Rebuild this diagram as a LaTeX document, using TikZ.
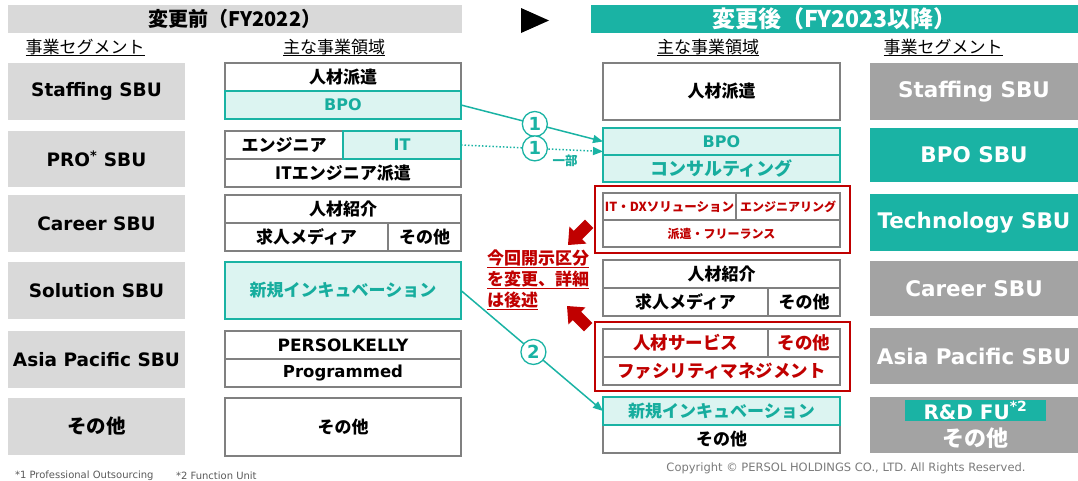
\documentclass[tikz,border=0pt]{standalone}
\usepackage{fontspec}
\newfontfamily\jp{Noto Sans CJK JP}
\newfontfamily\lat{DejaVu Sans}
\usetikzlibrary{arrows.meta}
\definecolor{tealc}{HTML}{1AB3A4}
\definecolor{tealtx}{HTML}{17AD9E}
\definecolor{lteal}{HTML}{DCF4F1}
\definecolor{lgray}{HTML}{D9D9D9}
\definecolor{mgray}{HTML}{A3A3A3}
\definecolor{bgray}{HTML}{808080}
\definecolor{dkred}{HTML}{C00000}
\definecolor{ftgray}{HTML}{595959}
\newcommand\fs[1]{\fontsize{#1}{#1}\selectfont}
\newcommand\bx[7]{\node[#2,minimum width={(#5-#3)*1pt},minimum height={(#6-#4)*1pt}] (#1) at ({(#3+#5)/2},{(#4+#6)/2}) {#7};}
\begin{document}
\begin{tikzpicture}[x=1pt,y=-1pt,inner sep=0pt,outer sep=0pt,
  segL/.style={fill=lgray,font=\lat\bfseries\fs{18.5},text=black},
  segG/.style={fill=mgray,font=\lat\bfseries\fs{21.5},text=white},
  segT/.style={fill=tealc,font=\lat\bfseries\fs{21.5},text=white},
  cell/.style={draw=bgray,line width=1.2pt,fill=white,font=\jp\bfseries\fs{17},text=black},
  tcell/.style={draw=tealc,line width=1.3pt,fill=lteal,font=\jp\bfseries\fs{17},text=tealtx},
  rcell/.style={draw=bgray,line width=1.2pt,fill=white,font=\jp\bfseries\fs{17.5},text=dkred},
  redframe/.style={draw=dkred,line width=2.5pt,fill=white},
  sub/.style={font=\jp\fs{17},text=black},
  flow/.style={draw=tealc,line width=1.5pt,-{Triangle[length=10pt,width=8pt]}},
  num/.style={circle,solid,draw=tealc,line width=1.3pt,fill=white,minimum size=25pt,font=\lat\bfseries\fs{18},text=tealc},
  redtxt/.style={anchor=west,font=\jp\bfseries\fs{17},text=dkred}]
\useasboundingbox (0,0) rectangle (1078,480);
% titles
\bx{tL}{fill=lgray,font=\jp\bfseries\fs{20}}{8}{5}{462}{33}{変更前（FY2022）}
\bx{tR}{fill=tealc,text=white,font=\jp\bfseries\fs{23}}{591}{5}{1078}{33}{変更後（FY2023以降）}
\fill (521,8) -- (549,20.5) -- (521,33) -- cycle;
% subheaders
\node[sub] (h1) at (85,47) {事業セグメント};
\node[sub] (h2) at (334,47) {主な事業領域};
\node[sub] (h3) at (708,47) {主な事業領域};
\node[sub] (h4) at (943,47) {事業セグメント};
\foreach \h in {h1,h2,h3,h4} \draw[line width=0.8pt] ([yshift=-1pt]\h.south west) -- ([yshift=-1pt]\h.south east);
% left segments
\bx{segStaff}{segL}{8}{63}{185}{120}{Staffing SBU}
\bx{segPro}{segL}{8}{131}{185}{187}{PRO\textsuperscript{*} SBU}
\bx{segCareer}{segL}{8}{195}{185}{252}{Career SBU}
\bx{segSol}{segL}{8}{262}{185}{319}{Solution SBU}
\bx{segAsia}{segL}{8}{331}{185}{388}{Asia Pacific SBU}
\bx{segOther}{segL,font=\jp\bfseries\fs{19.5}}{8}{398}{185}{455}{その他}
% left areas
\bx{aStaff}{cell}{225}{63}{461}{91}{人材派遣}
\bx{aBpo}{tcell}{225}{91}{461}{119}{\lat\fs{16}BPO}
\bx{aEng}{cell}{225}{131}{343}{159}{エンジニア}
\bx{aITeng}{cell}{225}{159}{461}{187}{ITエンジニア派遣}
\bx{aIT}{tcell}{343}{131}{461}{159}{\lat\fs{16}IT}
\bx{aJinzai}{cell}{225}{195}{461}{223}{人材紹介}
\bx{aMedia}{cell}{225}{223}{388}{251}{求人メディア}
\bx{aCOther}{cell}{388}{223}{461}{251}{その他}
\bx{aNew}{tcell}{225}{262}{461}{319}{新規インキュベーション}
\bx{aPK}{cell}{225}{331}{461}{359}{\lat\fs{17}PERSOLKELLY}
\bx{aProg}{cell}{225}{359}{461}{387}{\lat\fs{16.5}Programmed}
\bx{aOther}{cell}{225}{398}{461}{456}{その他}
% right areas
\bx{rStaff}{cell}{603}{63}{840}{120}{人材派遣}
\bx{rBpo}{tcell}{603}{128}{840}{155}{\lat\fs{16}BPO}
\bx{rCons}{tcell,font=\jp\bfseries\fs{18}}{603}{155}{840}{182}{コンサルティング}
\bx{red1}{redframe}{595}{186}{850}{253}{}
\bx{rITDX}{rcell,font=\jp\bfseries\fs{12.5}}{603}{193}{736}{220}{IT・DXソリューション}
\bx{rEngr}{rcell,font=\jp\bfseries\fs{12}}{736}{193}{840}{220}{エンジニアリング}
\bx{rHaken}{rcell,font=\jp\bfseries\fs{12}}{603}{220}{840}{247}{派遣・フリーランス}
\bx{rJinzai}{cell}{603}{260}{840}{288}{人材紹介}
\bx{rMedia}{cell}{603}{288}{768}{316}{求人メディア}
\bx{rCOther}{cell}{768}{288}{840}{316}{その他}
\bx{red2}{redframe}{595}{322}{850}{391}{}
\bx{rHR}{rcell}{603}{329}{768}{357}{人材サービス}
\bx{rAOther}{rcell}{768}{329}{840}{357}{その他}
\bx{rFM}{rcell}{603}{357}{840}{385}{ファシリティマネジメント}
\bx{rOther}{cell}{603}{425}{840}{453}{その他}
\bx{rNew}{tcell}{603}{397}{840}{425}{新規インキュベーション}
% right segments
\bx{sStaff}{segG}{870}{63}{1078}{120}{Staffing SBU}
\bx{sBpo}{segT}{870}{128}{1078}{182}{BPO SBU}
\bx{sTech}{segT}{870}{194}{1078}{251}{Technology SBU}
\bx{sCareer}{segG}{870}{261}{1078}{316}{Career SBU}
\bx{sAsia}{segG}{870}{328}{1078}{384}{Asia Pacific SBU}
\bx{sOther}{segG}{870}{397}{1078}{453}{}
\bx{rd}{fill=tealc,text=white,font=\lat\bfseries\fs{20}}{905}{400}{1046}{421}{R\&D FU\textsuperscript{*2}}
\node[font=\jp\bfseries\fs{22},text=white] (sono) at (975,438) {その他};
% connectors
\draw[flow] (aBpo.east) -- node[num,pos=0.52] (c1) {1} (rBpo.west);
\draw[flow,dotted] (aIT.east) -- node[num,pos=0.52] (c2) {1} ([yshift=-10pt]rBpo.west);
\node[font=\jp\bfseries\fs{12.5},text=tealtx] (ichibu) at (565,161) {一部};
\draw[flow] (aNew.east) -- node[num,pos=0.51] (c3) {2} (rNew.west);
% red notes
\fill[dkred] (568,245) -- (586.4,243.6) -- (582.1,239.3) -- (593.4,228.0) -- (585.0,219.6) -- (573.7,230.9) -- (569.4,226.6) -- cycle;
\fill[dkred] (567,306) -- (585.4,307.4) -- (581.1,311.7) -- (592.4,323.0) -- (584.0,331.4) -- (572.7,320.1) -- (568.4,324.4) -- cycle;
\node[redtxt] (n1) at (487,258) {今回開示区分};
\node[redtxt] (n2) at (487,279) {を変更、詳細};
\node[redtxt] (n3) at (487,300) {は後述};
\foreach \n in {n1,n2,n3} \draw[dkred,line width=1.2pt] ([yshift=-1pt]\n.south west) -- ([yshift=-1pt]\n.south east);
% footer
\node[anchor=west,font=\lat\fs{10},text=ftgray] (fn1) at (15,476) {*1 Professional Outsourcing};
\node[anchor=west,font=\lat\fs{10},text=ftgray] (fn2) at (176,476) {*2 Function Unit};
\node[font=\lat\fs{11.5},text=ftgray!80] (copy) at (846,468) {Copyright © PERSOL HOLDINGS CO., LTD. All Rights Reserved.};
\end{tikzpicture}
\end{document}
